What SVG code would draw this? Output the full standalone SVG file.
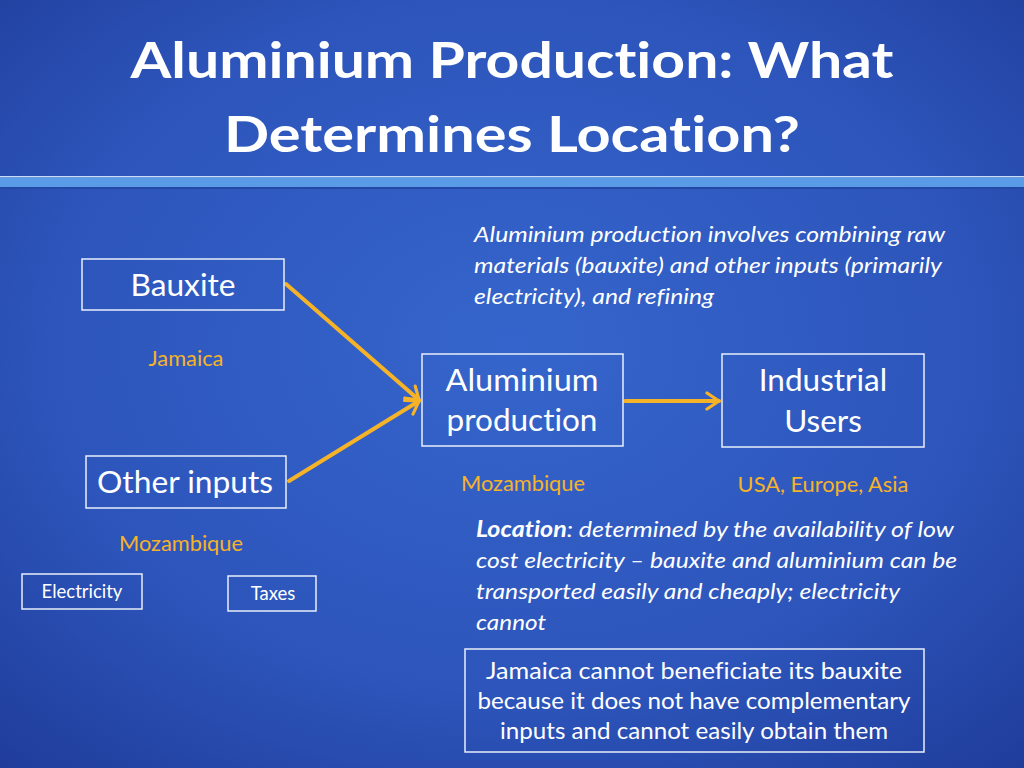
<svg xmlns="http://www.w3.org/2000/svg" width="1024" height="768" viewBox="0 0 1024 768">
<defs>
<radialGradient id="bg" cx="50%" cy="45%" r="75%">
<stop offset="0" stop-color="#3565cc"/>
<stop offset="0.6" stop-color="#2d55bb"/>
<stop offset="1" stop-color="#1f3c9a"/>
</radialGradient>
<marker id="chev" viewBox="0 0 20 20" refX="16" refY="10" markerWidth="5" markerHeight="5" markerUnits="strokeWidth" orient="auto">
<path d="M4,2 L16,10 L4,18" fill="none" stroke="#f6b328" stroke-width="3.2" stroke-linecap="round" stroke-linejoin="round"/>
</marker>
<style>
text,tspan{font-variant-ligatures:none;font-feature-settings:"liga" 0,"clig" 0,"dlig" 0}
.t{font-family:Lato,"Open Sans","Liberation Sans",sans-serif;fill:#ffffff}
.box{fill:none;stroke:#e8eefa;stroke-width:1.5}
.lab{font-size:31.5px;text-anchor:middle}
.org{font-family:Lato,"Open Sans","Liberation Sans",sans-serif;fill:#f6b328;font-size:21.8px;text-anchor:middle}
.it{font-size:22px;font-style:italic}
.conn{fill:none;stroke:#f6b328;stroke-width:4;stroke-linecap:round}
</style>
</defs>
<rect width="1024" height="768" fill="url(#bg)"/>
<!-- header bar -->
<rect x="0" y="176" width="1024" height="1.5" fill="#c8dcf8"/>
<rect x="0" y="177.5" width="1024" height="9.5" fill="#5a9be8"/>
<rect x="0" y="187" width="1024" height="2" fill="#2448a6"/>
<!-- title -->
<g id="title" class="t" font-weight="bold" font-size="50" text-anchor="middle">
<text x="512" y="78" textLength="763" lengthAdjust="spacingAndGlyphs">Aluminium Production: What</text>
<text x="512" y="152" textLength="576" lengthAdjust="spacingAndGlyphs">Determines Location?</text>
</g>
<!-- intro text -->
<g id="intro" class="t it">
<text x="474" y="242" textLength="471" lengthAdjust="spacingAndGlyphs">Aluminium production involves combining raw</text>
<text x="474" y="273" textLength="468" lengthAdjust="spacingAndGlyphs">materials (bauxite) and other inputs (primarily</text>
<text x="474" y="304" textLength="240" lengthAdjust="spacingAndGlyphs">electricity), and refining</text>
</g>
<!-- connectors -->
<g id="connectors">
<line class="conn" x1="286" y1="284" x2="419" y2="400" marker-end="url(#chev)"/>
<line class="conn" x1="289" y1="481" x2="419" y2="401" marker-end="url(#chev)"/>
<line class="conn" x1="625" y1="401" x2="719" y2="401" marker-end="url(#chev)"/>
</g>
<g id="bauxite">
<rect class="box" x="82" y="259" width="202" height="51"/>
<text class="t lab" x="183" y="296" textLength="105" lengthAdjust="spacingAndGlyphs">Bauxite</text>
</g>
<text class="org" x="186" y="366">Jamaica</text>
<g id="other-inputs">
<rect class="box" x="86" y="456" width="200" height="52"/>
<text class="t lab" x="185" y="493" textLength="176" lengthAdjust="spacingAndGlyphs">Other inputs</text>
</g>
<text class="org" x="181" y="551">Mozambique</text>
<g id="electricity">
<rect class="box" x="22" y="574" width="120" height="35"/>
<text class="t" x="82" y="598" font-size="18.5" text-anchor="middle">Electricity</text>
</g>
<g id="taxes">
<rect class="box" x="228" y="576" width="88" height="35"/>
<text class="t" x="273" y="600" font-size="18.5" text-anchor="middle">Taxes</text>
</g>
<g id="aluminium-production">
<rect class="box" x="422" y="354" width="201" height="92"/>
<text class="t lab" x="522" y="391" textLength="153" lengthAdjust="spacingAndGlyphs">Aluminium</text>
<text class="t lab" x="522" y="431">production</text>
</g>
<text class="org" x="523" y="491">Mozambique</text>
<g id="industrial-users">
<rect class="box" x="722" y="354" width="202" height="93"/>
<text class="t lab" x="823" y="391">Industrial</text>
<text class="t lab" x="823" y="432">Users</text>
</g>
<text class="org" x="823" y="492">USA, Europe, Asia</text>
<!-- location text -->
<g id="location" class="t it">
<text x="476" y="537" textLength="478" lengthAdjust="spacingAndGlyphs"><tspan font-weight="bold">Location</tspan>: determined by the availability of low</text>
<text x="476" y="568" textLength="481" lengthAdjust="spacingAndGlyphs">cost  electricity – bauxite and aluminium can be</text>
<text x="476" y="599" textLength="424" lengthAdjust="spacingAndGlyphs">transported easily and cheaply; electricity</text>
<text x="476" y="630" textLength="70" lengthAdjust="spacingAndGlyphs">cannot</text>
</g>
<g id="jamaica-note">
<rect class="box" x="465" y="649" width="459" height="103"/>
<g class="t" font-size="23" text-anchor="middle">
<text x="694" y="679" textLength="416" lengthAdjust="spacingAndGlyphs">Jamaica cannot beneficiate its bauxite</text>
<text x="694" y="709" textLength="433" lengthAdjust="spacingAndGlyphs">because it does not have complementary</text>
<text x="694" y="739" textLength="388" lengthAdjust="spacingAndGlyphs">inputs and cannot easily obtain them</text>
</g>
</g>
</svg>
